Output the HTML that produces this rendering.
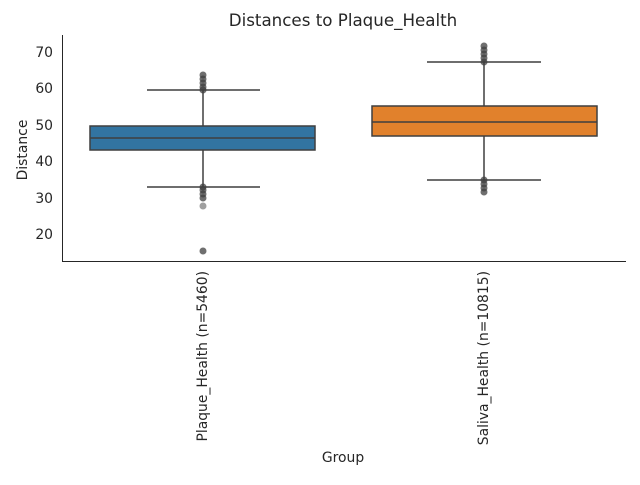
<!DOCTYPE html><html><head><style>body{margin:0;background:#fff}</style></head><body>
<svg width="640" height="480" xmlns="http://www.w3.org/2000/svg" font-family="DejaVu Sans, Liberation Sans, sans-serif" fill="#262626">
<text x="343" y="26" font-size="16.7" text-anchor="middle">Distances to Plaque_Health</text>
<g stroke="#262626" stroke-width="1"><line x1="62.5" y1="35" x2="62.5" y2="261"/><line x1="62" y1="261.5" x2="626" y2="261.5"/></g>
<g font-size="13.9" text-anchor="end">
<text x="53" y="57">70</text><text x="53" y="93">60</text><text x="53" y="130">50</text><text x="53" y="166">40</text><text x="53" y="203">30</text><text x="53" y="239">20</text></g>
<text transform="translate(27,150) rotate(-90)" font-size="13.9" text-anchor="middle">Distance</text>
<text x="343" y="462" font-size="13.9" text-anchor="middle">Group</text>
<text transform="translate(207,271) rotate(-90)" font-size="13.9" text-anchor="end">Plaque_Health (n=5460)</text>
<text transform="translate(488,271) rotate(-90)" font-size="13.9" text-anchor="end">Saliva_Health (n=10815)</text>
<g stroke="#3f3f3f" stroke-width="1.5" fill="none">
<line x1="203" y1="90" x2="203" y2="126"/><line x1="203" y1="150" x2="203" y2="187"/>
<line x1="147" y1="90" x2="260" y2="90"/><line x1="147" y1="187" x2="260" y2="187"/>
<rect x="90" y="126" width="225" height="24" fill="#3274a1"/><line x1="90" y1="138" x2="315" y2="138"/>
<line x1="484" y1="62" x2="484" y2="106"/><line x1="484" y1="136" x2="484" y2="180"/>
<line x1="427" y1="62" x2="541" y2="62"/><line x1="427" y1="180" x2="541" y2="180"/>
<rect x="372" y="106" width="225" height="30" fill="#e1812c"/><line x1="372" y1="122" x2="597" y2="122"/>
</g>
<g fill="#3f3f3f" fill-opacity="0.75">
<circle cx="203" cy="75" r="3.5"/><circle cx="203" cy="79" r="3.5"/><circle cx="203" cy="83" r="3.5"/><circle cx="203" cy="87" r="3.5"/><circle cx="203" cy="90" r="3.5"/>
<circle cx="203" cy="187" r="3.5"/><circle cx="203" cy="190" r="3.5"/><circle cx="203" cy="194" r="3.5"/><circle cx="203" cy="198" r="3.5"/><circle cx="203" cy="206" r="3.5" fill-opacity="0.5"/><circle cx="203" cy="251" r="3.5"/>
<circle cx="484" cy="46" r="3.5"/><circle cx="484" cy="50" r="3.5"/><circle cx="484" cy="54" r="3.5"/><circle cx="484" cy="58" r="3.5"/><circle cx="484" cy="62" r="3.5"/>
<circle cx="484" cy="180" r="3.5"/><circle cx="484" cy="184" r="3.5"/><circle cx="484" cy="188" r="3.5"/><circle cx="484" cy="192" r="3.5"/>
</g>
</svg></body></html>
